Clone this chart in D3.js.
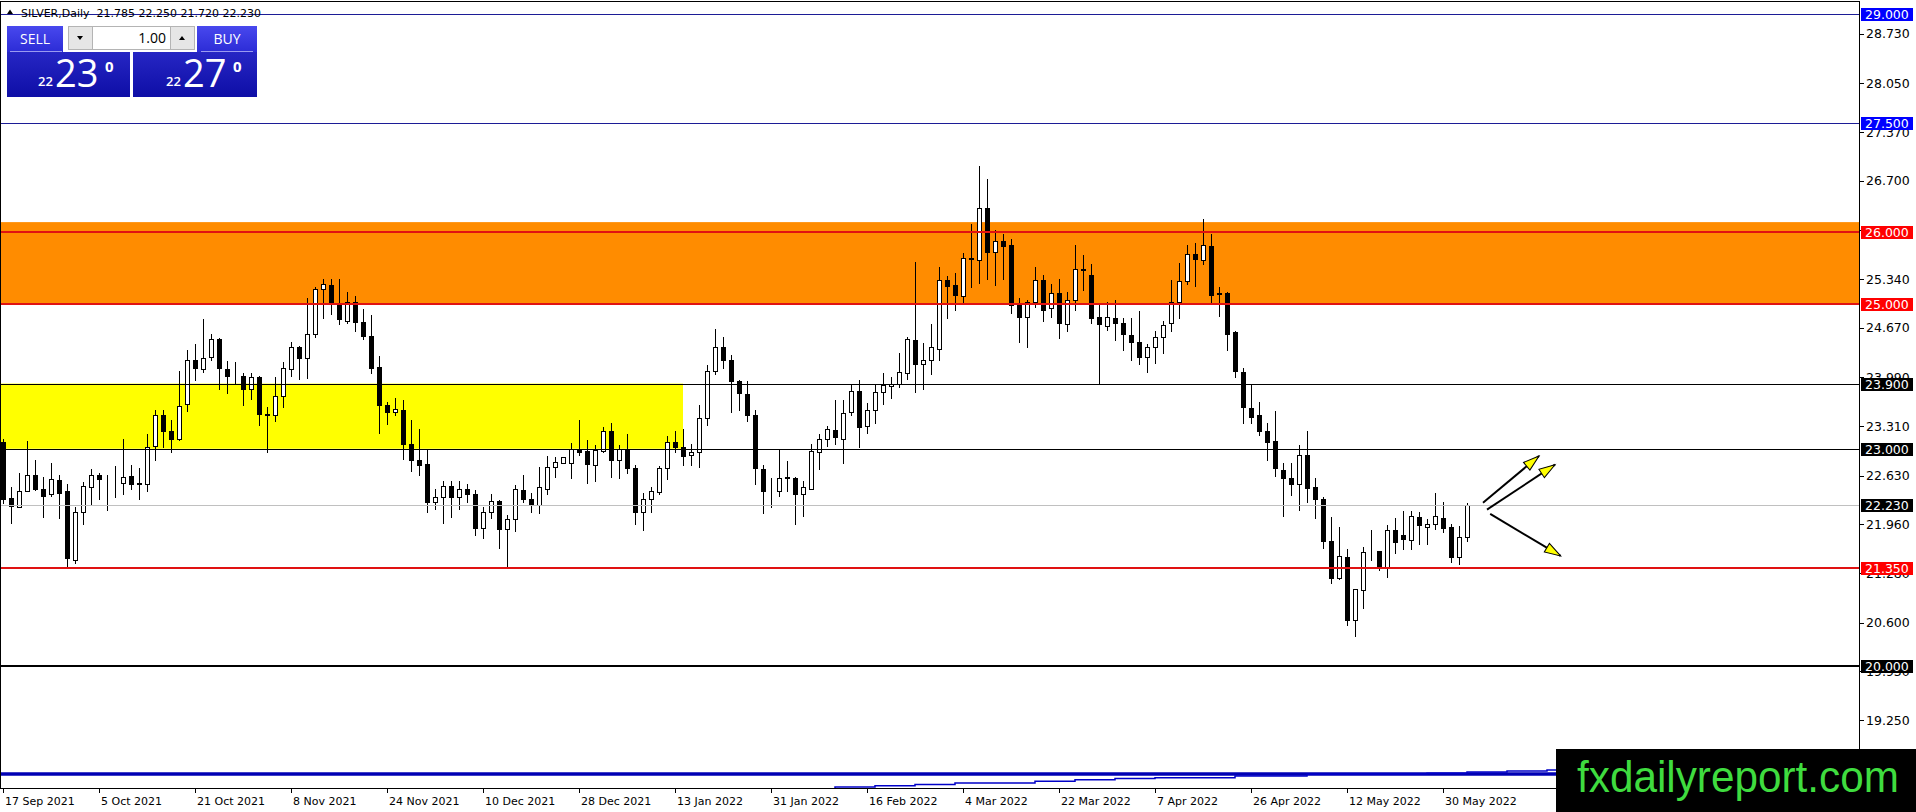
<!DOCTYPE html>
<html>
<head>
<meta charset="utf-8">
<script src="https://cdn.jsdelivr.net/npm/d3@7"></script>
<style>
html, body { margin: 0; padding: 0; background: #fff; overflow: hidden; }
svg { display: block; }
</style>
</head>
<body>
<svg id="chart" width="1916" height="812"></svg>
<script>
// daily OHLC, 17 Sep 2021 .. 2 Jun 2022
const opens = [
  23.10, 22.32, 22.20, 22.42, 22.64, 22.45, 22.37, 22.57, 22.41, 21.47,
  22.12, 22.47, 22.64, 22.56, 22.56, 22.53, 22.62, 22.53, 22.51, 23.04,
  23.46, 23.24, 23.14, 23.62, 24.23, 24.10, 24.27, 24.52, 24.10, 24.01,
  24.00, 23.83, 23.99, 23.48, 23.46, 23.73, 24.10, 24.40, 24.25, 24.58,
  25.20, 25.26, 24.99, 24.77, 25.02, 24.75, 24.56, 24.13, 23.61, 23.51,
  23.54, 23.07, 22.85, 22.79, 22.26, 22.33, 22.49, 22.33, 22.45, 22.38,
  21.90, 22.12, 22.28, 21.89, 22.03, 22.43, 22.30, 22.22, 22.45, 22.75,
  22.81, 22.81, 23.00, 22.97, 22.78, 22.97, 23.25, 22.84, 23.00, 22.74,
  22.13, 22.30, 22.40, 22.73, 23.09, 23.03, 22.92, 22.95, 23.42, 24.08,
  24.41, 24.23, 23.94, 23.75, 23.47, 22.72, 22.42, 22.41, 22.59, 22.60,
  22.37, 22.45, 22.95, 23.13, 23.26, 23.14, 23.51, 23.80, 23.31, 23.54,
  23.78, 23.86, 23.89, 24.05, 24.50, 24.17, 24.23, 24.38, 25.33, 25.26,
  25.11, 25.64, 25.61, 26.33, 25.72, 25.87, 25.81, 24.99, 24.82, 25.03,
  25.33, 24.95, 25.15, 24.72, 25.05, 25.48, 25.40, 24.82, 24.70, 24.80,
  24.73, 24.57, 24.48, 24.27, 24.40, 24.54, 24.73, 25.03, 25.31, 25.69,
  25.61, 25.80, 25.15, 25.15, 24.61, 24.06, 23.56, 23.46, 23.25, 23.11,
  22.70, 22.59, 22.51, 22.92, 22.47, 22.31, 21.73, 21.21, 21.51, 20.64,
  21.05, 21.57, 21.59, 21.36, 21.88, 21.81, 21.74, 22.06, 21.92, 21.96,
  22.05, 21.92, 21.50, 21.785
];
const highs = [
  23.14, 22.47, 22.67, 23.11, 22.84, 22.61, 22.80, 22.64, 22.51, 22.19,
  22.54, 22.72, 22.66, 22.64, 22.76, 23.14, 22.78, 22.73, 23.20, 23.53,
  23.54, 23.40, 24.08, 24.37, 24.45, 24.79, 24.58, 24.53, 24.21, 24.20,
  24.05, 24.05, 24.00, 23.58, 23.99, 24.20, 24.48, 24.42, 25.08, 25.23,
  25.34, 25.35, 25.35, 25.16, 25.11, 24.93, 24.85, 24.28, 23.65, 23.70,
  23.68, 23.40, 23.27, 22.98, 22.45, 22.55, 22.55, 22.55, 22.52, 22.43,
  22.19, 22.37, 22.29, 22.09, 22.50, 22.64, 22.39, 22.75, 22.90, 22.89,
  22.89, 23.08, 23.40, 23.12, 23.05, 23.30, 23.35, 23.05, 23.21, 22.78,
  22.39, 22.47, 22.76, 23.18, 23.24, 23.27, 23.07, 23.60, 24.16, 24.65,
  24.54, 24.30, 23.95, 23.93, 23.54, 22.78, 22.59, 22.99, 22.83, 22.61,
  22.55, 23.07, 23.21, 23.31, 23.67, 23.67, 23.90, 23.95, 23.63, 23.88,
  24.04, 23.99, 24.32, 24.54, 25.575, 24.46, 24.72, 25.515, 25.38, 25.43,
  25.70, 26.10, 26.90, 26.72, 26.02, 25.96, 25.89, 25.08, 25.05, 25.51,
  25.40, 25.28, 25.35, 25.16, 25.81, 25.68, 25.55, 24.99, 25.02, 25.05,
  24.81, 24.80, 24.90, 24.44, 24.63, 24.76, 25.33, 25.56, 25.81, 25.84,
  26.17, 25.97, 25.24, 25.16, 24.63, 24.12, 23.88, 23.65, 23.36, 23.52,
  22.81, 22.80, 23.05, 23.24, 22.59, 22.33, 22.06, 21.92, 21.61, 21.07,
  21.64, 21.88, 21.59, 21.95, 22.04, 22.14, 22.14, 22.12, 22.03, 22.39,
  22.26, 21.96, 21.93, 22.25
];
const lows = [
  22.25, 21.97, 22.19, 22.41, 22.43, 22.06, 22.35, 22.05, 21.37, 21.42,
  21.96, 22.23, 22.31, 22.16, 22.34, 22.38, 22.44, 22.30, 22.41, 22.85,
  23.02, 22.96, 23.12, 23.52, 23.95, 24.06, 24.23, 23.82, 23.77, 23.91,
  23.60, 23.69, 23.33, 22.96, 23.39, 23.57, 24.00, 23.97, 23.98, 24.54,
  24.80, 24.86, 24.72, 24.74, 24.62, 24.51, 24.05, 23.22, 23.34, 23.47,
  22.86, 22.69, 22.64, 22.13, 22.17, 21.98, 22.06, 22.17, 22.26, 21.81,
  21.77, 22.04, 21.63, 21.37, 21.86, 22.26, 22.13, 22.11, 22.38, 22.61,
  22.80, 22.59, 22.91, 22.53, 22.55, 22.96, 22.61, 22.59, 22.67, 21.96,
  21.88, 22.13, 22.37, 22.58, 22.95, 22.77, 22.77, 22.75, 23.33, 24.03,
  24.12, 23.51, 23.54, 23.39, 22.52, 22.11, 22.20, 22.35, 22.41, 21.96,
  22.07, 22.44, 22.72, 23.04, 23.07, 22.81, 23.47, 23.03, 23.22, 23.36,
  23.62, 23.70, 23.85, 23.97, 23.79, 23.82, 24.03, 24.23, 24.80, 24.92,
  25.01, 25.24, 25.29, 25.35, 25.26, 25.35, 24.88, 24.48, 24.41, 24.96,
  24.77, 24.82, 24.53, 24.62, 24.91, 25.19, 24.74, 23.91, 24.64, 24.50,
  24.36, 24.23, 24.17, 24.06, 24.19, 24.32, 24.62, 24.81, 25.28, 25.25,
  25.55, 25.01, 24.83, 24.37, 23.99, 23.35, 23.35, 23.19, 22.84, 22.62,
  22.07, 22.36, 22.15, 22.27, 22.05, 21.63, 21.14, 21.20, 20.57, 20.41,
  20.80, 21.46, 21.32, 21.23, 21.56, 21.62, 21.62, 21.69, 21.68, 21.89,
  21.855, 21.43, 21.41, 21.72
];
const closes = [
  22.31, 22.21, 22.42, 22.64, 22.45, 22.35, 22.58, 22.39, 21.49, 22.12,
  22.48, 22.64, 22.58, 22.55, 22.55, 22.61, 22.52, 22.51, 23.03, 23.46,
  23.24, 23.13, 23.59, 24.23, 24.11, 24.25, 24.52, 24.11, 24.01, 24.00,
  23.82, 23.99, 23.48, 23.47, 23.73, 24.12, 24.40, 24.26, 24.58, 25.20,
  25.27, 25.02, 24.79, 25.03, 24.75, 24.56, 24.12, 23.61, 23.51, 23.55,
  23.06, 22.84, 22.78, 22.27, 22.33, 22.49, 22.33, 22.44, 22.38, 21.90,
  22.13, 22.28, 21.89, 22.03, 22.44, 22.31, 22.22, 22.47, 22.75, 22.82,
  22.88, 23.00, 22.96, 22.79, 22.98, 23.25, 22.84, 22.99, 22.74, 22.13,
  22.31, 22.41, 22.73, 23.10, 23.03, 22.90, 22.95, 23.42, 24.08, 24.41,
  24.23, 23.93, 23.77, 23.47, 22.73, 22.42, 22.41, 22.59, 22.61, 22.38,
  22.47, 22.97, 23.13, 23.27, 23.16, 23.50, 23.80, 23.30, 23.54, 23.78,
  23.88, 23.89, 24.06, 24.51, 24.17, 24.23, 24.40, 25.33, 25.25, 25.12,
  25.64, 25.62, 26.33, 25.72, 25.87, 25.80, 24.99, 24.82, 25.03, 25.33,
  24.91, 25.15, 24.73, 25.05, 25.48, 25.47, 24.81, 24.72, 24.82, 24.73,
  24.58, 24.48, 24.27, 24.40, 24.54, 24.71, 25.03, 25.31, 25.69, 25.62,
  25.81, 25.12, 25.14, 24.59, 24.08, 23.57, 23.44, 23.25, 23.10, 22.73,
  22.59, 22.52, 22.92, 22.46, 22.30, 21.73, 21.21, 21.52, 20.63, 21.06,
  21.57, 21.58, 21.37, 21.88, 21.71, 21.75, 22.07, 21.95, 21.96, 22.07,
  21.91, 21.50, 21.78, 22.23
];

// time axis: one label every 12 bars
const dateLabels = ['17 Sep 2021', '5 Oct 2021', '21 Oct 2021', '8 Nov 2021', '24 Nov 2021',
  '10 Dec 2021', '28 Dec 2021', '13 Jan 2022', '31 Jan 2022', '16 Feb 2022', '4 Mar 2022',
  '22 Mar 2022', '7 Apr 2022', '26 Apr 2022', '12 May 2022', '30 May 2022'];
const barsPerLabel = 12;

const priceTicks = [28.73, 28.05, 27.37, 26.70, 26.02, 25.34, 24.67, 23.99, 23.31,
  22.63, 21.96, 21.28, 20.60, 19.93, 19.25];

// horizontal levels drawn on the chart
const levelPrices = [29.0, 27.5, 26.0, 25.0, 23.9, 23.0, 22.23, 21.35, 20.0];
const levelKinds = ['blue', 'blue', 'red', 'red', 'black', 'black', 'bid', 'red', 'blackBold'];

const orangeZone = [25.0, 26.13];
const yellowZone = [23.0, 23.9];
const yellowZoneEndBar = 85;

// indicator lines along the bottom
const flatLineIdx = [-2, 230];
const flatLineVal = [18.51, 18.51];
const stepIdx = [96, 104, 109, 114, 119, 129, 134, 139, 144, 154, 163, 168, 178, 183, 188, 193, 198, 203];
const stepVal = [18.30, 18.33, 18.345, 18.365, 18.385, 18.41, 18.43, 18.445, 18.457, 18.48,
  18.505, 18.51, 18.52, 18.535, 18.55, 18.565, 18.58, 18.58];

// forecast arrows
const arrowFromIdx = [185.0, 185.5, 185.9];
const arrowFromPrice = [22.255, 22.16, 22.10];
const arrowToIdx = [192.0, 194.0, 194.7];
const arrowToPrice = [22.90, 22.78, 21.52];

const headerText = 'SILVER,Daily  21.785 22.250 21.720 22.230';

const plotLeft = 1, plotTop = 2, plotRight = 1859, plotBottom = 788;

const svg = d3.select('#chart');
const x = d3.scaleLinear().domain([0, opens.length - 1]).range([3, 3 + 8 * (opens.length - 1)]);
const y = d3.scaleLinear().domain([20, 29]).range([666, 14.3]);
const px = v => Math.round(v) + 0.5;

const defs = svg.append('defs');
defs.append('clipPath').attr('id', 'plotClip')
  .append('rect').attr('x', plotLeft).attr('y', plotTop)
  .attr('width', plotRight - plotLeft).attr('height', plotBottom - plotTop);

const btnGrad = defs.append('linearGradient').attr('id', 'btnGrad').attr('x1', 0).attr('y1', 0).attr('x2', 0).attr('y2', 1);
btnGrad.append('stop').attr('offset', '0%').attr('stop-color', '#4848ee');
btnGrad.append('stop').attr('offset', '100%').attr('stop-color', '#2c2cd6');
const panelGrad = defs.append('linearGradient').attr('id', 'panelGrad').attr('x1', 0).attr('y1', 0).attr('x2', 0).attr('y2', 1);
panelGrad.append('stop').attr('offset', '0%').attr('stop-color', '#2626c4');
panelGrad.append('stop').attr('offset', '100%').attr('stop-color', '#0e0ea6');

const marker = defs.append('marker').attr('id', 'head')
  .attr('viewBox', '-18 -7 20 14').attr('refX', 0).attr('refY', 0)
  .attr('markerWidth', 20).attr('markerHeight', 14)
  .attr('markerUnits', 'userSpaceOnUse').attr('orient', 'auto');
marker.append('path').attr('d', 'M0,0 L-16,-5 L-16,5 Z')
  .attr('fill', '#ffff00').attr('stroke', '#000').attr('stroke-width', 1);

svg.append('rect').attr('width', 1916).attr('height', 812).attr('fill', '#fff');

const plot = svg.append('g').attr('clip-path', 'url(#plotClip)');

// zones (background)
plot.append('rect')
  .attr('x', plotLeft).attr('width', plotRight - plotLeft)
  .attr('y', y(orangeZone[1])).attr('height', y(orangeZone[0]) - y(orangeZone[1]))
  .attr('fill', '#ff8c00');
plot.append('rect')
  .attr('x', plotLeft).attr('width', x(yellowZoneEndBar) - plotLeft)
  .attr('y', y(yellowZone[1])).attr('height', y(yellowZone[0]) - y(yellowZone[1]))
  .attr('fill', '#ffff00');

// bottom indicator lines
const lineGen = (idx, val) => d3.line().x((d, i) => x(idx[i])).y((d, i) => y(val[i]));
plot.append('path').datum(flatLineVal)
  .attr('d', lineGen(flatLineIdx, flatLineVal))
  .attr('fill', 'none').attr('stroke', '#0000b4').attr('stroke-width', 3.5);
plot.append('path').datum(stepVal)
  .attr('d', lineGen(stepIdx, stepVal).curve(d3.curveStepAfter))
  .attr('fill', 'none').attr('stroke', '#0000c8').attr('stroke-width', 1.5);

// candles
const bars = d3.range(opens.length);
const candles = plot.append('g');
candles.selectAll('line.wick').data(bars).enter().append('line')
  .attr('class', 'wick')
  .attr('x1', i => px(x(i))).attr('x2', i => px(x(i)))
  .attr('y1', i => Math.round(y(highs[i]))).attr('y2', i => Math.round(y(lows[i])) + 1)
  .attr('stroke', '#000').attr('stroke-width', 1);
candles.selectAll('rect.body').data(bars).enter().append('rect')
  .attr('class', 'body')
  .attr('x', i => px(x(i)) - 2)
  .attr('width', 4)
  .attr('y', i => px(y(Math.max(opens[i], closes[i]))))
  .attr('height', i => Math.max(0, Math.round(y(Math.min(opens[i], closes[i]))) - Math.round(y(Math.max(opens[i], closes[i])))))
  .attr('fill', i => closes[i] >= opens[i] ? '#fff' : '#000')
  .attr('stroke', '#000').attr('stroke-width', 1);

// horizontal levels
const lineStroke = { blue: '#1c1c96', red: '#e01212', black: '#000', bid: '#c0c0c0', blackBold: '#000' };
const lineWidth = { blue: 1, red: 2, black: 1, bid: 1, blackBold: 2 };
const labelFill = { blue: '#0000ff', red: '#ff0000', black: '#000', bid: '#000', blackBold: '#000' };
plot.selectAll('line.level').data(levelPrices).enter().append('line')
  .attr('class', 'level')
  .attr('x1', plotLeft).attr('x2', plotRight)
  .attr('y1', (p, i) => lineWidth[levelKinds[i]] === 1 ? px(y(p)) : Math.round(y(p)))
  .attr('y2', (p, i) => lineWidth[levelKinds[i]] === 1 ? px(y(p)) : Math.round(y(p)))
  .attr('stroke', (p, i) => lineStroke[levelKinds[i]])
  .attr('stroke-width', (p, i) => lineWidth[levelKinds[i]]);

// arrows
plot.selectAll('line.arrow').data(arrowFromIdx).enter().append('line')
  .attr('class', 'arrow')
  .attr('x1', (d, i) => x(arrowFromIdx[i])).attr('y1', (d, i) => y(arrowFromPrice[i]))
  .attr('x2', (d, i) => x(arrowToIdx[i])).attr('y2', (d, i) => y(arrowToPrice[i]))
  .attr('stroke', '#000').attr('stroke-width', 2)
  .attr('marker-end', 'url(#head)');

// frame and axes
svg.append('rect')
  .attr('x', plotLeft - 0.5).attr('y', plotTop - 0.5)
  .attr('width', plotRight - plotLeft + 1).attr('height', plotBottom - plotTop + 1)
  .attr('fill', 'none').attr('stroke', '#000').attr('stroke-width', 1);
svg.append('line')
  .attr('x1', plotRight + 0.5).attr('x2', plotRight + 0.5)
  .attr('y1', plotTop).attr('y2', 812)
  .attr('stroke', '#000');

const priceFont = '"DejaVu Sans", Verdana, sans-serif';
const yAxis = svg.append('g');
yAxis.selectAll('line').data(priceTicks).enter().append('line')
  .attr('x1', plotRight + 1).attr('x2', plotRight + 5)
  .attr('y1', p => px(y(p))).attr('y2', p => px(y(p)))
  .attr('stroke', '#000');
yAxis.selectAll('text').data(priceTicks).enter().append('text')
  .attr('x', plotRight + 7).attr('y', p => y(p) + 4.5)
  .attr('font-family', priceFont).attr('font-size', 12.5)
  .attr('fill', '#000')
  .text(p => p.toFixed(3));

const levelLabels = svg.append('g');
levelLabels.selectAll('rect').data(levelPrices).enter().append('rect')
  .attr('x', plotRight + 2).attr('width', 52)
  .attr('y', p => Math.round(y(p)) - 6).attr('height', 13)
  .attr('fill', (p, i) => labelFill[levelKinds[i]]);
levelLabels.selectAll('text').data(levelPrices).enter().append('text')
  .attr('x', plotRight + 6).attr('y', p => Math.round(y(p)) + 5)
  .attr('font-family', priceFont).attr('font-size', 12.5)
  .attr('fill', '#fff')
  .text(p => p.toFixed(3));

const xAxis = svg.append('g');
xAxis.selectAll('line').data(dateLabels).enter().append('line')
  .attr('x1', (d, k) => px(x(k * barsPerLabel))).attr('x2', (d, k) => px(x(k * barsPerLabel)))
  .attr('y1', plotBottom).attr('y2', plotBottom + 5)
  .attr('stroke', '#000');
xAxis.selectAll('text').data(dateLabels).enter().append('text')
  .attr('x', (d, k) => x(k * barsPerLabel) + 2)
  .attr('y', plotBottom + 17)
  .attr('font-family', priceFont).attr('font-size', 11)
  .attr('fill', '#000')
  .text(d => d);

// header line
svg.append('path').attr('d', 'M7,14 L10,9.5 L13,14 Z').attr('fill', '#000');
svg.append('text').attr('x', 21).attr('y', 16.5)
  .attr('font-family', priceFont).attr('font-size', 11).attr('fill', '#000')
  .attr('xml:space', 'preserve')
  .text(headerText);

// one click trading panel
const panelFont = '"Open Sans", "Noto Sans", sans-serif';
const panel = svg.append('g');
panel.append('rect').attr('x', 7).attr('y', 26).attr('width', 56).attr('height', 26).attr('fill', 'url(#btnGrad)');
panel.append('rect').attr('x', 197).attr('y', 26).attr('width', 60).attr('height', 26).attr('fill', 'url(#btnGrad)');
panel.append('rect').attr('x', 7).attr('y', 52).attr('width', 123).attr('height', 45).attr('fill', 'url(#panelGrad)');
panel.append('rect').attr('x', 133).attr('y', 52).attr('width', 124).attr('height', 45).attr('fill', 'url(#panelGrad)');
panel.append('line').attr('x1', 10).attr('x2', 62).attr('y1', 51.5).attr('y2', 51.5).attr('stroke', '#9a9af0');
panel.append('line').attr('x1', 201).attr('x2', 253).attr('y1', 51.5).attr('y2', 51.5).attr('stroke', '#9a9af0');
panel.append('rect').attr('x', 68.5).attr('y', 26.5).attr('width', 24).attr('height', 23).attr('fill', '#e6e6e6').attr('stroke', '#b4b4b4');
panel.append('rect').attr('x', 92.5).attr('y', 26.5).attr('width', 78).attr('height', 23).attr('fill', '#fff').attr('stroke', '#b4b4b4');
panel.append('rect').attr('x', 170.5).attr('y', 26.5).attr('width', 24).attr('height', 23).attr('fill', '#e6e6e6').attr('stroke', '#b4b4b4');
panel.append('path').attr('d', 'M77,36 L83,36 L80,40 Z').attr('fill', '#000');
panel.append('path').attr('d', 'M179,40 L185,40 L182,36 Z').attr('fill', '#000');
panel.append('text').attr('x', 35).attr('y', 44).attr('text-anchor', 'middle')
  .attr('font-family', panelFont).attr('font-size', 14).attr('fill', '#fff').text('SELL');
panel.append('text').attr('x', 227).attr('y', 44).attr('text-anchor', 'middle')
  .attr('font-family', panelFont).attr('font-size', 14).attr('fill', '#fff').text('BUY');
panel.append('text').attr('x', 166).attr('y', 43).attr('text-anchor', 'end')
  .attr('font-family', panelFont).attr('font-size', 14).attr('fill', '#000').text('1.00');

const quote = (x0, small, big, sup) => {
  panel.append('text').attr('x', x0).attr('y', 86)
    .attr('font-family', panelFont).attr('font-size', 13).attr('font-weight', 600)
    .attr('fill', '#fff').text(small);
  panel.append('text').attr('x', x0 + 17).attr('y', 87)
    .attr('font-family', panelFont).attr('font-size', 38)
    .attr('fill', '#fff').text(big);
  panel.append('text').attr('x', x0 + 67).attr('y', 72)
    .attr('font-family', panelFont).attr('font-size', 15).attr('font-weight', 700)
    .attr('fill', '#fff').text(sup);
};
quote(38, '22', '23', '0');
quote(166, '22', '27', '0');

// watermark
svg.append('rect').attr('x', 1556).attr('y', 749).attr('width', 360).attr('height', 63).attr('fill', '#000');
svg.append('text').attr('x', 1577).attr('y', 792)
  .attr('font-family', '"Liberation Sans Narrow", "Liberation Sans", Arial, sans-serif')
  .attr('font-size', 45)
  .attr('textLength', 322).attr('lengthAdjust', 'spacingAndGlyphs')
  .attr('fill', '#3fdc3f')
  .text('fxdailyreport.com');
</script>
</body>
</html>
